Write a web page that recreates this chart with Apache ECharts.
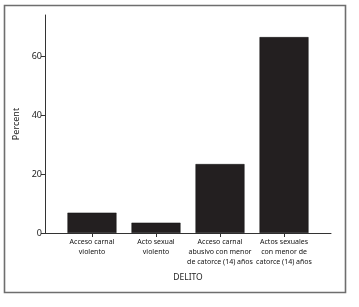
<!DOCTYPE html>
<html>
<head>
<meta charset="utf-8">
<script src="https://cdn.jsdelivr.net/npm/echarts@6/dist/echarts.min.js"></script>
<style>
html, body { margin: 0; padding: 0; background: #fff; }
#chart { width: 359px; height: 307px; }
</style>
</head>
<body>
<div id="chart"></div>
<script>
// Datos
const categorias = [
    'Acceso carnal\nviolento',
    'Acto sexual\nviolento',
    'Acceso carnal\nabusivo con menor\nde catorce (14) años',
    'Actos sexuales\ncon menor de\ncatorce (14) años'
];
const porcentajes = [6.9, 3.5, 23.4, 66.5];
const ticksY = [0, 20, 40, 60];

const fuente = '"Noto Sans", sans-serif';
const posiciones = categorias.map((c, i) => i);

let chart = echarts.init(document.getElementById('chart'));
chart.setOption({
    animation: false,
    backgroundColor: '#fff',
    graphic: [{
        type: 'rect',
        shape: { x: 4.5, y: 5.5, width: 341, height: 287 },
        style: { fill: 'none', stroke: '#6e6e6e', lineWidth: 1.6 },
        silent: true
    }],
    grid: { left: 45, right: 28, top: 15, bottom: 74 },
    xAxis: {
        type: 'value',
        min: -0.734,
        max: 3.734,
        name: 'DELITO',
        nameLocation: 'middle',
        nameGap: 40,
        nameTextStyle: { fontFamily: fuente, fontSize: 8.5, color: '#222' },
        splitLine: { show: false },
        axisLine: { show: true, onZero: false, lineStyle: { color: '#333', width: 1 } },
        axisTick: { show: true, customValues: posiciones, length: 4, inside: false, lineStyle: { color: '#333' } },
        axisLabel: {
            customValues: posiciones,
            formatter: v => categorias[Math.round(v)],
            fontFamily: fuente, fontSize: 7, lineHeight: 10, color: '#111', margin: 4
        }
    },
    yAxis: {
        type: 'value',
        min: 0,
        max: 74,
        name: 'Percent',
        nameLocation: 'middle',
        nameRotate: 90,
        nameGap: 21,
        nameTextStyle: { fontFamily: fuente, fontSize: 9, color: '#222' },
        splitLine: { show: false },
        axisLine: { show: true, onZero: false, lineStyle: { color: '#333', width: 1 } },
        axisTick: { show: true, customValues: ticksY, length: 4, lineStyle: { color: '#333' } },
        axisLabel: { customValues: ticksY, fontFamily: fuente, fontSize: 9, color: '#222', margin: 3 }
    },
    series: [{
        type: 'bar',
        barWidth: 49,
        data: porcentajes.map((v, i) => [posiciones[i], v]),
        itemStyle: { color: '#231f20', borderColor: '#111', borderWidth: 0.5 }
    }]
});
</script>
</body>
</html>
